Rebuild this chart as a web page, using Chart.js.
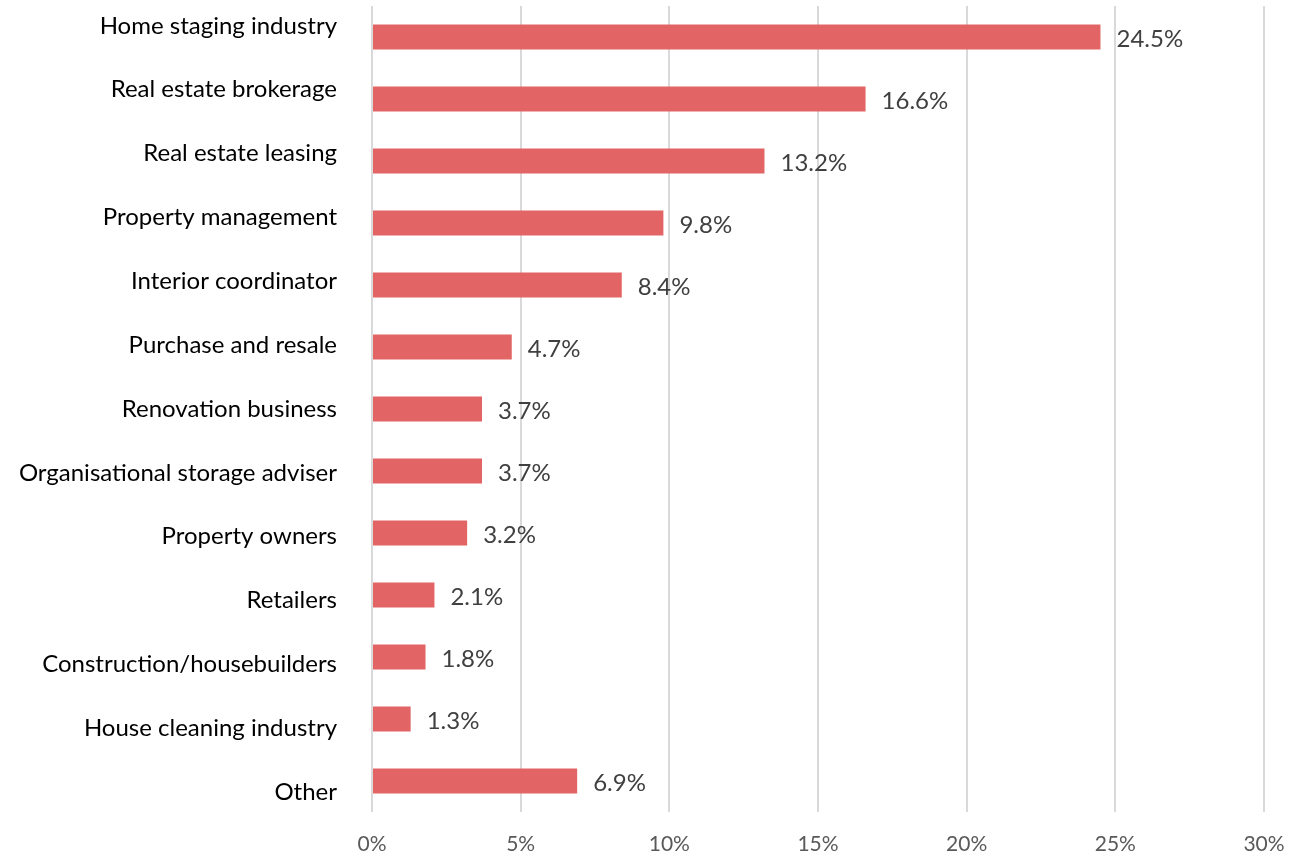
<!DOCTYPE html>
<html>
<head>
<meta charset="utf-8">
<script src="https://cdn.jsdelivr.net/npm/chart.js@4/dist/chart.umd.min.js"></script>
<style>
  html, body { margin: 0; padding: 0; background: #fff; }
  #wrap { width: 1297px; height: 856px; }
</style>
</head>
<body>
<div id="wrap"><canvas id="chartSektor"></canvas></div>
<script>
// Kategori dan nilai (%)
const categories = [
    'Home staging industry',
    'Real estate brokerage',
    'Real estate leasing',
    'Property management',
    'Interior coordinator',
    'Purchase and resale',
    'Renovation business',
    'Organisational storage adviser',
    'Property owners',
    'Retailers',
    'Construction/housebuilders',
    'House cleaning industry',
    'Other'
];
const shares = [24.5, 16.6, 13.2, 9.8, 8.4, 4.7, 3.7, 3.7, 3.2, 2.1, 1.8, 1.3, 6.9];
const xTicks = [0, 5, 10, 15, 20, 25, 30];

const fontFamily = "Lato, 'Open Sans', sans-serif";

// Nilai di ujung batang
const labelNilai = {
    id: 'labelNilai',
    afterDatasetsDraw(chart) {
        const ctx = chart.ctx;
        const meta = chart.getDatasetMeta(0);
        ctx.save();
        ctx.font = '24px ' + fontFamily;
        ctx.fillStyle = '#404040';
        ctx.textAlign = 'left';
        ctx.textBaseline = 'middle';
        meta.data.forEach((bar, i) => {
            ctx.fillText(shares[i].toFixed(1) + '%', bar.x + 16, bar.y + 2);
        });
        ctx.restore();
    }
};

// Label kategori di kiri, jaraknya sedikit lebih renggang dari batang
const labelKategori = {
    id: 'labelKategori',
    afterDraw(chart) {
        const ctx = chart.ctx;
        const yScale = chart.scales.y;
        const tengah = (chart.chartArea.top + chart.chartArea.bottom) / 2;
        const regang = 1.03;
        ctx.save();
        ctx.font = '24px ' + fontFamily;
        ctx.fillStyle = '#000000';
        ctx.textAlign = 'right';
        ctx.textBaseline = 'middle';
        categories.forEach((nama, i) => {
            const y = tengah + (yScale.getPixelForTick(i) - tengah) * regang;
            ctx.fillText(nama, chart.chartArea.left - 35, y);
        });
        ctx.restore();
    }
};

new Chart(document.getElementById('chartSektor'), {
    type: 'bar',
    data: {
        labels: categories,
        datasets: [{
            data: shares,
            backgroundColor: '#E36464',
            barPercentage: 0.4,
            categoryPercentage: 1.0
        }]
    },
    options: {
        indexAxis: 'y',
        responsive: true,
        maintainAspectRatio: false,
        animation: false,
        layout: { padding: { top: 6, right: 0, left: 0, bottom: 0 } },
        plugins: {
            legend: { display: false },
            tooltip: { enabled: false }
        },
        scales: {
            x: {
                min: 0,
                max: 30,
                afterBuildTicks(scale) {
                    scale.ticks = xTicks.map(v => ({ value: v }));
                },
                afterFit(scale) {
                    scale.height = 44;
                    scale.paddingLeft = 0;
                    scale.paddingRight = 33;
                },
                grid: { color: '#D9D9D9', lineWidth: 2, drawTicks: false },
                border: { display: false },
                ticks: {
                    padding: 20,
                    color: '#595959',
                    font: { family: fontFamily, size: 21 },
                    callback: v => v + '%'
                }
            },
            y: {
                afterFit(scale) {
                    scale.width = 372;
                    scale.paddingTop = 0;
                    scale.paddingBottom = 0;
                },
                grid: { display: false, drawTicks: false },
                border: { display: false },
                ticks: { display: false }
            }
        }
    },
    plugins: [labelNilai, labelKategori]
});
</script>
</body>
</html>
